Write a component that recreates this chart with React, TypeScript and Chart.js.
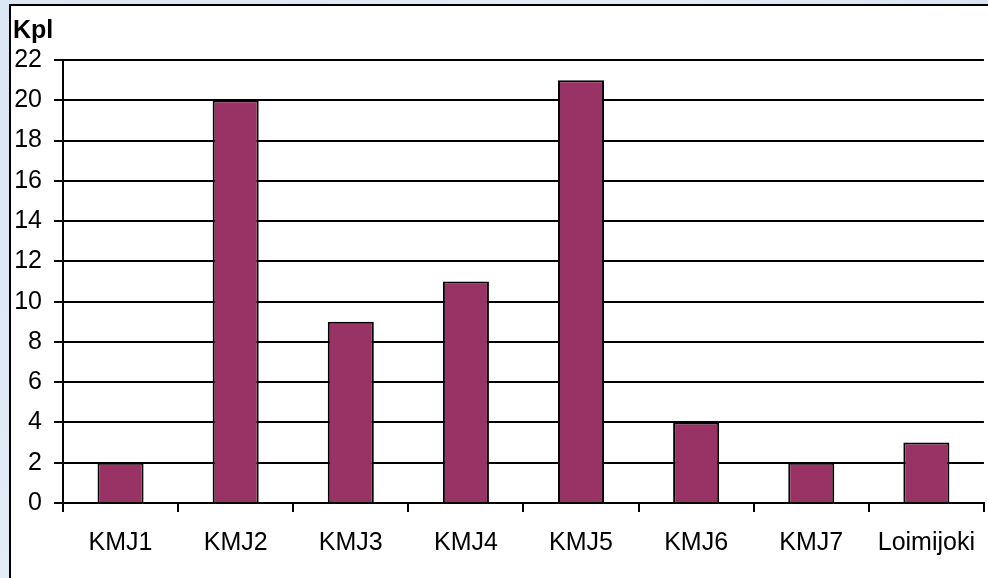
import React, { useEffect, useRef } from "react";
import { Chart, registerables } from "chart.js";

Chart.register(...registerables);

const categories = ["KMJ1", "KMJ2", "KMJ3", "KMJ4", "KMJ5", "KMJ6", "KMJ7", "Loimijoki"];
const counts = [2, 20, 9, 11, 21, 4, 2, 3];
const yTitle = "Kpl";
const yMax = 22;
const yStep = 2;

export default function App() {
  const ref = useRef<HTMLCanvasElement | null>(null);

  useEffect(() => {
    if (!ref.current) return;
    const font = { family: "Arial, 'Liberation Sans', sans-serif", size: 25 };
    const chart = new Chart(ref.current, {
      type: "bar",
      data: {
        labels: categories,
        datasets: [
          {
            data: counts,
            backgroundColor: "#993366",
            borderColor: "#000000",
            borderWidth: 2,
            barPercentage: 0.4,
            categoryPercentage: 1,
          },
        ],
      },
      options: {
        responsive: false,
        animation: false,
        devicePixelRatio: 1,
        layout: { padding: { top: 60, left: 0, right: 0, bottom: 0 } },
        plugins: { legend: { display: false }, tooltip: { enabled: false }, title: { display: false } },
        scales: {
          x: {
            grid: {
              display: true,
              drawOnChartArea: false,
              drawTicks: true,
              tickLength: 9,
              color: "#000",
              lineWidth: 2,
            },
            border: { display: true, color: "#000", width: 2 },
            ticks: { color: "#000", font, padding: 16, maxRotation: 0, autoSkip: false },
            afterFit: (s: any) => {
              s.height = 75;
            },
          },
          y: {
            min: 0,
            max: yMax,
            grid: { color: "#000", lineWidth: 2, tickLength: 9, drawTicks: true },
            border: { display: true, color: "#000", width: 2 },
            ticks: { stepSize: yStep, color: "#000", font, padding: 12 },
            afterFit: (s: any) => {
              s.width = 63;
            },
          },
        },
      },
    });
    return () => chart.destroy();
  }, []);

  return (
    <div
      style={{
        position: "fixed",
        left: 0,
        top: 0,
        width: 988,
        height: 578,
        overflow: "hidden",
        background: "linear-gradient(135deg, #dbe6f3 0%, #e3ecf7 40%, #d6e2f1 70%, #e0e9f5 100%)",
      }}
    >
      <div
        style={{
          position: "absolute",
          left: 9,
          top: 4,
          width: 1100,
          height: 700,
          background: "#fff",
          borderLeft: "2px solid #000",
          borderTop: "2px solid #000",
        }}
      />
      <canvas
        ref={ref}
        width={991}
        height={578}
        style={{ position: "absolute", left: 0, top: 0, width: 991, height: 578 }}
      />
      <div
        style={{
          position: "absolute",
          left: 13,
          top: 17,
          font: "bold 25px Arial, 'Liberation Sans', sans-serif",
          lineHeight: "25px",
          color: "#000",
        }}
      >
        {yTitle}
      </div>
    </div>
  );
}
